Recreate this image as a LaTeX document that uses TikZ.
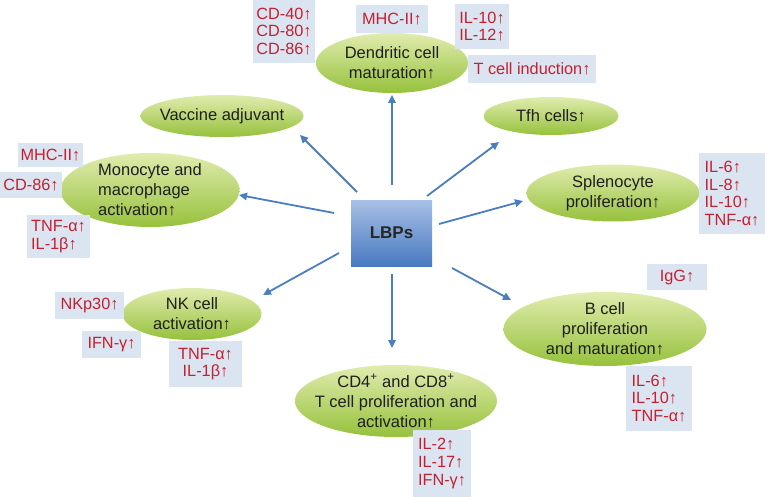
\documentclass[tikz,border=0pt]{standalone}
\usepackage{fontspec}
\setmainfont{Liberation Sans}
\usetikzlibrary{shapes.geometric,arrows.meta}

\definecolor{cellTop}{RGB}{224,236,174}
\definecolor{cellBot}{RGB}{150,193,60}
\definecolor{boxBlue}{RGB}{219,229,241}
\definecolor{txtRed}{RGB}{196,32,48}
\definecolor{arrBlue}{RGB}{74,126,190}
\definecolor{lbpTop}{RGB}{168,192,230}
\definecolor{lbpBot}{RGB}{72,121,192}

\begin{document}
\begin{tikzpicture}[x=1pt, y=-1pt,
    cell/.style={ellipse, inner sep=0pt, top color=cellTop, bottom color=cellBot},
    celltext/.style={align=center, text=black!88, font=\fontsize{16.5}{20}\selectfont},
    cyto/.style={fill=boxBlue, text=txtRed, inner sep=1pt, align=left,
        font=\fontsize{16.3}{17.8}\selectfont},
    arr/.style={draw=arrBlue, line width=1.8pt, -{Triangle[length=8pt,width=7.5pt]}}]
    \useasboundingbox (0,0) rectangle (765,497);

    % centre
    \node[rectangle, top color=lbpTop, bottom color=lbpBot, minimum width=81pt,
        minimum height=66pt, font=\fontsize{17}{20}\selectfont\bfseries,
        text=black!85] (lbp) at (391.5,233) {LBPs};

    % cells
    \node[cell, minimum width=152pt, minimum height=60pt] (dc) at (392,63) {};
    \node[celltext] (dct) at (dc) {Dendritic cell\\maturation↑};
    \node[cell, minimum width=163pt, minimum height=42pt] (vac) at (222,116) {};
    \node[celltext] (vact) at (vac) {Vaccine adjuvant};
    \node[cell, minimum width=135pt, minimum height=38pt] (tfh) at (551,116) {};
    \node[celltext] (tfht) at (tfh) {Tfh cells↑};
    \node[cell, minimum width=179pt, minimum height=74pt] (mono) at (150,190) {};
    \node[celltext, align=left] (monot) at (mono) {Monocyte and\\macrophage\\activation↑};
    \node[cell, minimum width=173pt, minimum height=57pt] (spl) at (613,193) {};
    \node[celltext] (splt) at (spl) {Splenocyte\\proliferation↑};
    \node[cell, minimum width=139pt, minimum height=52pt] (nk) at (192,314) {};
    \node[celltext] (nkt) at (nk) {NK cell\\activation↑};
    \node[cell, minimum width=203pt, minimum height=74pt] (bc) at (605,329) {};
    \node[celltext] (bct) at (bc) {B cell\\proliferation\\and maturation↑};
    \node[cell, minimum width=202pt, minimum height=72pt] (cd4) at (396,401) {};
    \node[celltext] (cd4t) at (cd4) {CD4\textsuperscript{+} and CD8\textsuperscript{+}\\T cell proliferation and\\activation↑};

    % markers
    \node[cyto, minimum width=72pt, minimum height=28pt] (dcmhc) at (392,19) {MHC-II↑};
    \node[cyto, minimum width=54pt, minimum height=45pt] (dcil) at (482,26.5) {IL-10↑\\IL-12↑};
    \node[cyto, minimum width=128pt, minimum height=28pt] (dcind) at (532,69) {T cell induction↑};
    \node[cyto, align=right, minimum width=62pt, minimum height=63pt] (dccd) at (284,31.5) {CD-40↑\\CD-80↑\\CD-86↑};
    \node[cyto, minimum width=65pt, minimum height=24pt] (momhc) at (50.5,155) {MHC-II↑};
    \node[cyto, minimum width=62pt, minimum height=26pt] (mocd) at (31,185) {CD-86↑};
    \node[cyto, minimum width=63pt, minimum height=43pt] (motnf) at (58.5,236.5) {TNF-α↑\\IL-1β↑};
    \node[cyto, minimum width=66pt, minimum height=81pt] (splil) at (732,193.5) {IL-6↑\\IL-8↑\\IL-10↑\\TNF-α↑};
    \node[cyto, minimum width=69pt, minimum height=27pt] (nkp) at (89.5,305.5) {NKp30↑};
    \node[cyto, minimum width=59pt, minimum height=27pt] (nkifn) at (111.5,344.5) {IFN-γ↑};
    \node[cyto, align=center, minimum width=73pt, minimum height=46pt] (nktnf) at (205.5,364) {TNF-α↑\\IL-1β↑};
    \node[cyto, minimum width=60pt, minimum height=26pt] (bigg) at (677,277) {IgG↑};
    \node[cyto, minimum width=66pt, minimum height=65pt] (bil) at (659,398.5) {IL-6↑\\IL-10↑\\TNF-α↑};
    \node[cyto, minimum width=58pt, minimum height=67pt] (cdil) at (442,463.5) {IL-2↑\\IL-17↑\\IFN-γ↑};

    % arrows
    \draw[arr] ([shift={(0.5,-48)}]lbp.center) -- ([shift={(0,32)}]dc.center);
    \draw[arr] ([shift={(-34.5,-41)}]lbp.center) -- ([shift={(78,19)}]vac.center);
    \draw[arr] ([shift={(35.5,-37)}]lbp.center) -- ([shift={(-52,26)}]tfh.center);
    \draw[arr] ([shift={(-57.5,-20)}]lbp.center) -- ([shift={(89,5)}]mono.center);
    \draw[arr] ([shift={(47.5,-9)}]lbp.center) -- ([shift={(-90,8)}]spl.center);
    \draw[arr] ([shift={(-52.5,20)}]lbp.center) -- ([shift={(71,-19)}]nk.center);
    \draw[arr] ([shift={(60.5,35)}]lbp.center) -- ([shift={(-94,-29)}]bc.center);
    \draw[arr] ([shift={(0.5,41)}]lbp.center) -- ([shift={(-4,-53)}]cd4.center);
\end{tikzpicture}
\end{document}
